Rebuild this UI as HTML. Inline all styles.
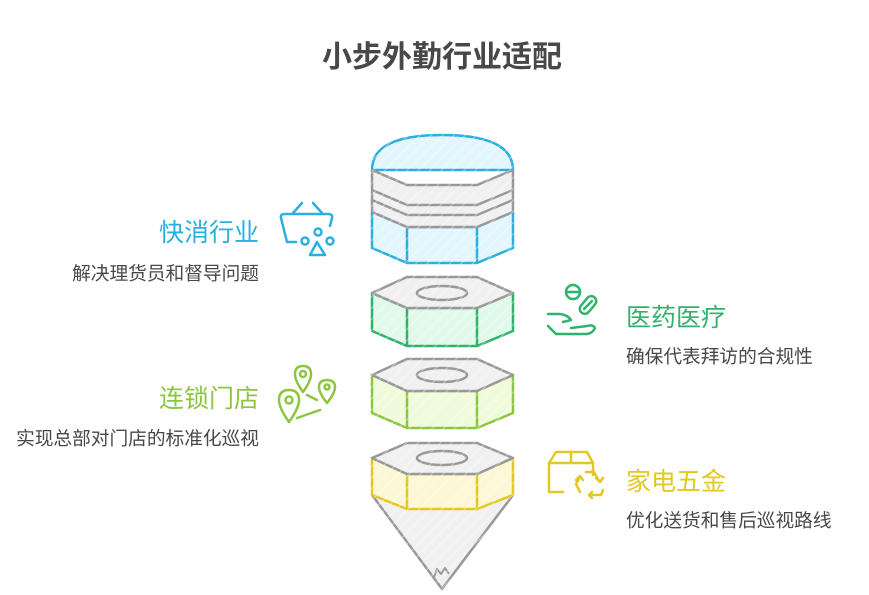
<!DOCTYPE html>
<html><head><meta charset="utf-8"><style>
html,body{margin:0;padding:0;background:#fff;}
svg{display:block;font-family:"Liberation Sans","Noto Sans CJK SC",sans-serif;}
</style></head><body>
<svg width="869" height="595" viewBox="0 0 869 595" xmlns="http://www.w3.org/2000/svg">
<defs>
<pattern id="h" width="8" height="8" patternUnits="userSpaceOnUse" patternTransform="rotate(45)">
<rect width="8" height="8" fill="none"/><line x1="0" y1="0" x2="0" y2="8" stroke="#fff" stroke-opacity="0.4" stroke-width="2"/>
</pattern>
</defs>
<text x="442" y="67" text-anchor="middle" font-size="30" font-weight="bold" fill="#484848">小步外勤行业适配</text>

<g stroke-width="2.5" stroke-linejoin="round">
<path d="M372,170 Q372,135 442,135 Q513,135 513,170 Z" fill="#e3f6fd" stroke="#2aafe0"/>
<path d="M372,212 L407,227 L477,227 L513,212 L513,248 L477,263 L407,263 L372,248 Z" fill="#e3f6fd" stroke="#2aafe0"/>
<line x1="407" y1="227" x2="407" y2="263" stroke="#2aafe0"/>
<line x1="477" y1="227" x2="477" y2="263" stroke="#2aafe0"/>
<path d="M372,170 L407,185 L477,185 L513,170 L513,212 L477,227 L407,227 L372,212 Z" fill="#f0f0f0" stroke="#999"/>
<path d="M372,190 L407,205 L477,205 L513,190" fill="none" stroke="#999"/>
<path d="M372,200 L407,215 L477,215 L513,200" fill="none" stroke="#999"/>
<rect x="370" y="133" width="146" height="132" fill="url(#h)" stroke="none"/>
</g>

<g stroke-width="2.5" stroke-linejoin="round">
<path d="M372,293 L407,308 L477,308 L513,293 L513,331 L477,346 L407,346 L372,331 Z" fill="#e0f9ea" stroke="#2fb36b"/>
<line x1="407" y1="308" x2="407" y2="346" stroke="#2fb36b"/><line x1="477" y1="308" x2="477" y2="346" stroke="#2fb36b"/>
<path d="M372,293 L407,277 L477,277 L513,293 L477,308 L407,308 Z" fill="#f0f0f0" stroke="#999"/>
<ellipse cx="442" cy="293" rx="25" ry="7" fill="none" stroke="#999"/>
<path d="M372,375 L407,391 L477,391 L513,375 L513,413 L477,428 L407,428 L372,413 Z" fill="#f0fbdc" stroke="#8cc63f"/>
<line x1="407" y1="391" x2="407" y2="428" stroke="#8cc63f"/><line x1="477" y1="391" x2="477" y2="428" stroke="#8cc63f"/>
<path d="M372,375 L407,359 L477,359 L513,375 L477,391 L407,391 Z" fill="#f0f0f0" stroke="#999"/>
<ellipse cx="442" cy="375" rx="25" ry="7" fill="none" stroke="#999"/>
<path d="M372,495 L442,589 L513,495 Z" fill="#f0f0f0" stroke="#999"/>
<path d="M434,577 L437,569 L441,574 L445,568 L449,574" fill="none" stroke="#999" stroke-width="2"/>
<path d="M372,458 L407,474 L477,474 L513,458 L513,495 L477,509 L407,509 L372,495 Z" fill="#fdf7d6" stroke="#e2c822"/>
<line x1="407" y1="474" x2="407" y2="509" stroke="#e2c822"/><line x1="477" y1="474" x2="477" y2="509" stroke="#e2c822"/>
<path d="M372,458 L407,443 L477,443 L513,458 L477,474 L407,474 Z" fill="#f0f0f0" stroke="#999"/>
<ellipse cx="442" cy="458" rx="25" ry="7" fill="none" stroke="#999"/>
<rect x="370" y="275" width="146" height="316" fill="url(#h)" stroke="none"/>
</g>

<text x="259" y="241" text-anchor="end" font-size="25" fill="#2aafe0">快消行业</text>
<text x="259" y="280" text-anchor="end" font-size="18.7" fill="#484848">解决理货员和督导问题</text>
<text x="626" y="326" font-size="25" fill="#2fb36b">医药医疗</text>
<text x="626" y="363" font-size="18.7" fill="#484848">确保代表拜访的合规性</text>
<text x="259" y="407" text-anchor="end" font-size="25" fill="#8cc63f">连锁门店</text>
<text x="259" y="445" text-anchor="end" font-size="18.7" fill="#484848">实现总部对门店的标准化巡视</text>
<text x="626" y="490" font-size="25" fill="#e2c822">家电五金</text>
<text x="626" y="527" font-size="18.7" fill="#484848">优化送货和售后巡视路线</text>

<g fill="none" stroke-width="2.5" stroke-linecap="round" stroke-linejoin="round">
<g stroke="#2aafe0">
<path d="M293,213 L302,203 M313,203 L322,213"/>
<path d="M296,242 L287,242 L281,218 Q280,214 285,214 L328,214 Q333,214 332,218 L330,226"/>
<circle cx="318" cy="232" r="3.5"/><circle cx="305" cy="241" r="3.5"/><circle cx="330" cy="241" r="3.5"/>
<path d="M317,242 L310,255 L325,255 Z"/>
</g>
<g stroke="#2fb36b">
<circle cx="573" cy="292" r="7"/><line x1="567" y1="292" x2="579" y2="292"/>
<rect x="583" y="295" width="10" height="20" rx="5" transform="rotate(40 588 305)"/>
<line x1="584" y1="309" x2="592" y2="301"/>
<path d="M548,314 L560,314 Q568,315 571,320 L563,322 M548,326 L556,334 L586,334 Q592,334 595,328 Q593,324 587,326 L571,328"/>
</g>
<g stroke="#8cc63f">
<path d="M289,422 Q279,408 279,400 Q279,390 289,390 Q299,390 299,400 Q299,408 289,422 Z"/><circle cx="289" cy="400" r="3.5"/>
<path d="M303,392 Q295,381 295,374 Q295,366 303,366 Q311,366 311,374 Q311,381 303,392 Z"/><circle cx="303" cy="374" r="3"/>
<path d="M327,403 Q319,393 319,387 Q319,380 327,380 Q335,380 335,387 Q335,393 327,403 Z"/><circle cx="327" cy="387" r="2.5"/>
<line x1="307" y1="395" x2="317" y2="400"/><line x1="297" y1="418" x2="320" y2="410"/>
</g>
<g stroke="#e2c822">
<path d="M563,492 L549,492 L549,463 L593,463 L593,475"/>
<path d="M549,463 L556,452 L587,452 L593,463 M571,452 L571,463"/>
<path d="M586,472 L594,472 L599,481 M596,478 L600,482 L603,478"/>
<path d="M580,477 L576,484 L580,492 M576,480 L580,476 L583,480"/>
<path d="M590,495 L601,495 L603,490 M592,492 L589,495 L592,498"/>
</g>
</g>
</svg>
</body></html>
